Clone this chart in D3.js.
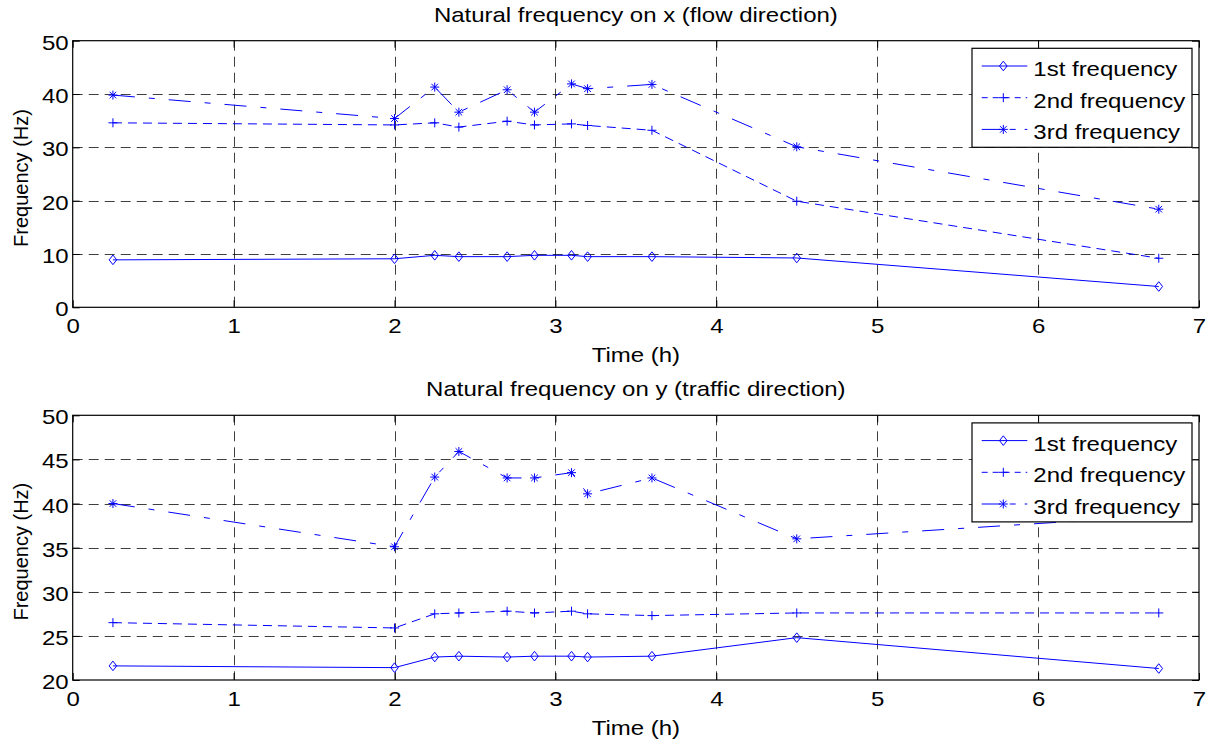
<!DOCTYPE html>
<html>
<head>
<meta charset="utf-8">
<script src="https://cdn.jsdelivr.net/npm/d3@7"></script>
<style>
  html, body { margin: 0; padding: 0; background: #fff; }
  svg { display: block; }
  text { font-family: "Liberation Sans", Arial, sans-serif; font-size: 20px; fill: #000; }
</style>
</head>
<body>
<svg id="chart" width="1212" height="744"></svg>
<script>
// Measurement times (hours)
const times = [0.25, 2, 2.25, 2.4, 2.7, 2.87, 3.1, 3.2, 3.6, 4.5, 6.75];

// Natural frequencies along x (flow direction), Hz
const flowFirst  = [8.9, 9.1, 9.75, 9.5, 9.5, 9.75, 9.75, 9.5, 9.5, 9.25, 3.9];
const flowSecond = [34.6, 34.2, 34.6, 33.8, 34.9, 34.2, 34.4, 34.1, 33.2, 19.9, 9.2];
const flowThird  = [39.8, 35.4, 41.3, 36.6, 40.8, 36.6, 41.9, 41.0, 41.8, 30.1, 18.4];

// Natural frequencies along y (traffic direction), Hz
const trafficFirst  = [21.6, 21.4, 22.6, 22.7, 22.6, 22.7, 22.7, 22.6, 22.7, 24.8, 21.3];
const trafficSecond = [26.5, 25.9, 27.5, 27.6, 27.8, 27.6, 27.8, 27.5, 27.3, 27.6, 27.6];
const trafficThird  = [40.0, 35.1, 43.0, 45.9, 42.9, 42.9, 43.5, 41.1, 42.9, 36.0, 38.6];

const seriesNames = ["1st frequency", "2nd frequency", "3rd frequency"];
const xTicks = [0, 1, 2, 3, 4, 5, 6, 7];
const flowTicks = [0, 10, 20, 30, 40, 50];
const trafficTicks = [20, 25, 30, 35, 40, 45, 50];

const titles = ["Natural frequency on x (flow direction)", "Natural frequency on y (traffic direction)"];
const xLabel = "Time (h)";
const yLabel = "Frequency (Hz)";

const svg = d3.select("#chart");
const SX = 1.2;           // horizontal glyph stretch
const BLUE = "#0000ff";
const TICK = 7;

const styles = [
  { dash: null,           marker: "diamond" },
  { dash: "9,6",          marker: "plus" },
  { dash: "22,14,6,14",   marker: "star" }
];

function label(g, x, y, str, anchor) {
  return g.append("text")
    .attr("transform", `translate(${x},${y}) scale(${SX},1)`)
    .attr("text-anchor", anchor || "middle")
    .text(str);
}

function drawMarker(g, kind, cx, cy) {
  if (kind === "diamond") {
    g.append("path")
      .attr("d", `M${cx},${cy - 4.8}L${cx + 3.8},${cy}L${cx},${cy + 4.8}L${cx - 3.8},${cy}Z`)
      .attr("fill", "none").attr("stroke", BLUE).attr("stroke-width", 1);
  } else if (kind === "plus") {
    g.append("path")
      .attr("d", `M${cx - 4.5},${cy}H${cx + 4.5}M${cx},${cy - 4.5}V${cy + 4.5}`)
      .attr("fill", "none").attr("stroke", BLUE).attr("stroke-width", 1);
  } else {
    const r = 4.5, d = 3.3;
    g.append("path")
      .attr("d", `M${cx - r},${cy}H${cx + r}M${cx},${cy - r}V${cy + r}` +
                 `M${cx - d},${cy - d}L${cx + d},${cy + d}M${cx - d},${cy + d}L${cx + d},${cy - d}`)
      .attr("fill", "none").attr("stroke", BLUE).attr("stroke-width", 1);
  }
}

function panel(cfg) {
  const { top, bottom, left, right, yDomain, yTicks, series, title } = cfg;
  const g = svg.append("g");
  const x = d3.scaleLinear().domain([0, 7]).range([left, right]);
  const y = d3.scaleLinear().domain(yDomain).range([bottom, top]);

  // dashed grid
  const grid = g.append("g").attr("stroke", "#000").attr("stroke-opacity", 0.75)
    .attr("stroke-width", 1).attr("stroke-dasharray", "10,6");
  xTicks.slice(1, -1).forEach(t => {
    grid.append("line").attr("x1", Math.round(x(t)) + 0.5).attr("x2", Math.round(x(t)) + 0.5)
      .attr("y1", top).attr("y2", bottom);
  });
  yTicks.slice(1, -1).forEach(t => {
    grid.append("line").attr("x1", left).attr("x2", right)
      .attr("y1", Math.round(y(t)) + 0.5).attr("y2", Math.round(y(t)) + 0.5);
  });

  // axes with inward ticks on every side
  const axB = g.append("g").attr("transform", `translate(0,${bottom})`)
    .call(d3.axisBottom(x).tickValues(xTicks).tickSize(-TICK).tickFormat(d3.format("d")));
  const axT = g.append("g").attr("transform", `translate(0,${top})`)
    .call(d3.axisTop(x).tickValues(xTicks).tickSize(-TICK).tickFormat(""));
  const axL = g.append("g").attr("transform", `translate(${left},0)`)
    .call(d3.axisLeft(y).tickValues(yTicks).tickSize(-TICK).tickFormat(d3.format("d")));
  const axR = g.append("g").attr("transform", `translate(${right},0)`)
    .call(d3.axisRight(y).tickValues(yTicks).tickSize(-TICK).tickFormat(""));
  [axB, axT, axL, axR].forEach(a => {
    a.select(".domain").remove();
    a.selectAll("line").attr("stroke", "#000");
    a.selectAll("text").attr("font-size", null).attr("font-family", null).attr("fill", "#000");
  });
  axB.selectAll("text").attr("y", 0).attr("dy", null)
    .attr("transform", `translate(0,26) scale(${SX},1)`);
  axL.selectAll("text").attr("x", 0).attr("y", 0).attr("dy", null)
    .attr("text-anchor", "end")
    .attr("transform", `translate(-4,8.5) scale(${SX},1)`);

  // series
  series.forEach((vals, i) => {
    const st = styles[i];
    const pts = times.map((t, k) => [x(t), y(vals[k])]);
    const path = g.append("path")
      .attr("d", d3.line()(pts))
      .attr("fill", "none").attr("stroke", BLUE).attr("stroke-width", 1);
    if (st.dash) path.attr("stroke-dasharray", st.dash);
    pts.forEach(p => drawMarker(g, st.marker, p[0], p[1]));
  });

  // box
  g.append("rect").attr("x", left).attr("y", top).attr("width", right - left).attr("height", bottom - top)
    .attr("fill", "none").attr("stroke", "#000").attr("stroke-width", 1.2);

  // text
  label(g, (left + right) / 2, top - 19, title);
  label(g, (left + right) / 2, bottom + 54.5, xLabel);
  g.append("text")
    .attr("transform", `translate(28,${(top + bottom) / 2 + 4}) scale(1.05,1) rotate(-90)`)
    .attr("text-anchor", "middle").attr("font-size", 22.5).text(yLabel);

  // legend
  const lw = 220, lh = 99;
  const lx = right - 7 - lw, ly = top + 7.6;
  const lg = g.append("g");
  lg.append("rect").attr("x", lx).attr("y", ly).attr("width", lw).attr("height", lh)
    .attr("fill", "#fff").attr("stroke", "#000").attr("stroke-width", 1.2);
  seriesNames.forEach((name, i) => {
    const cy = ly + 17.7 + i * 31.7;
    const st = styles[i];
    const seg = lg.append("line").attr("x1", lx + 9.7).attr("x2", lx + 55.3)
      .attr("y1", cy).attr("y2", cy).attr("stroke", BLUE).attr("stroke-width", 1);
    if (st.dash) seg.attr("stroke-dasharray", i === 1 ? "6,5" : "19,9,6,9");
    drawMarker(lg, st.marker, lx + 31.3, cy);
    label(lg, lx + 61.3, cy + 10, name, "start");
  });
}

panel({ top: 40.7, bottom: 307.3, left: 72.7, right: 1199, yDomain: [0, 50], yTicks: flowTicks,
        series: [flowFirst, flowSecond, flowThird], title: titles[0] });
panel({ top: 415.3, bottom: 680, left: 72.7, right: 1199, yDomain: [20, 50], yTicks: trafficTicks,
        series: [trafficFirst, trafficSecond, trafficThird], title: titles[1] });
</script>
</body>
</html>
